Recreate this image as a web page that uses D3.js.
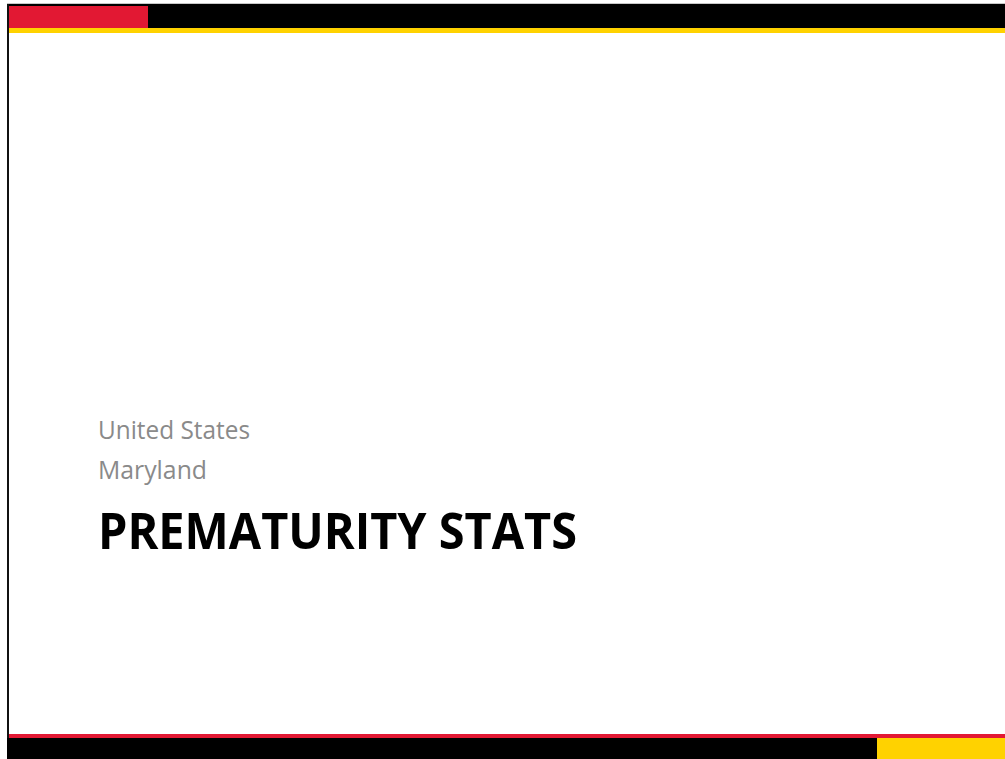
<!DOCTYPE html>
<html>
<head>
<meta charset="utf-8">
<script src="https://cdn.jsdelivr.net/npm/d3@7"></script>
<style>
html,body{margin:0;padding:0;background:#fff;overflow:hidden;}
svg{display:block;}
</style>
</head>
<body>
<script>
// Slide content
const subtitles = ["United States", "Maryland"];
const title = "PREMATURITY STATS";

const W = 1005, H = 759;
const svg = d3.select("body").append("svg").attr("width", W).attr("height", H);

// Decorative frame bands
const bands = [
  {x: 7, y: 3, w: 998, h: 1, fill: "#c8c8c8"},
  {x: 7, y: 4, w: 998, h: 24, fill: "#000000"},
  {x: 9, y: 6, w: 139, h: 22, fill: "#e21833"},
  {x: 9, y: 28, w: 996, h: 5, fill: "#ffd200"},
  {x: 7, y: 4, w: 2, h: 755, fill: "#111111"},
  {x: 9, y: 734, w: 996, h: 4, fill: "#e21833"},
  {x: 7, y: 738, w: 870, h: 21, fill: "#000000"},
  {x: 877, y: 738, w: 128, h: 21, fill: "#ffd200"}
];
svg.selectAll("rect.band").data(bands).join("rect")
  .attr("class", "band")
  .attr("x", d => d.x).attr("y", d => d.y)
  .attr("width", d => d.w).attr("height", d => d.h)
  .attr("fill", d => d.fill);

// Subtitles
const subY = d3.scalePoint().domain(subtitles).range([439, 479]);
const subWidths = {"United States": 152, "Maryland": 109};
svg.selectAll("text.sub").data(subtitles).join("text")
  .attr("class", "sub")
  .attr("x", 98)
  .attr("y", d => subY(d))
  .attr("font-family", "'Open Sans', 'Liberation Sans', sans-serif")
  .attr("font-size", 26)
  .attr("fill", "#8a8a8a")
  .attr("textLength", d => subWidths[d])
  .attr("lengthAdjust", "spacingAndGlyphs")
  .text(d => d);

// Title
svg.append("text")
  .attr("x", 98)
  .attr("y", 549)
  .attr("font-family", "'Open Sans', 'Liberation Sans', sans-serif")
  .attr("font-weight", "bold")
  .attr("font-size", 50)
  .attr("fill", "#000")
  .attr("textLength", 479)
  .attr("lengthAdjust", "spacingAndGlyphs")
  .text(title);
</script>
</body>
</html>
